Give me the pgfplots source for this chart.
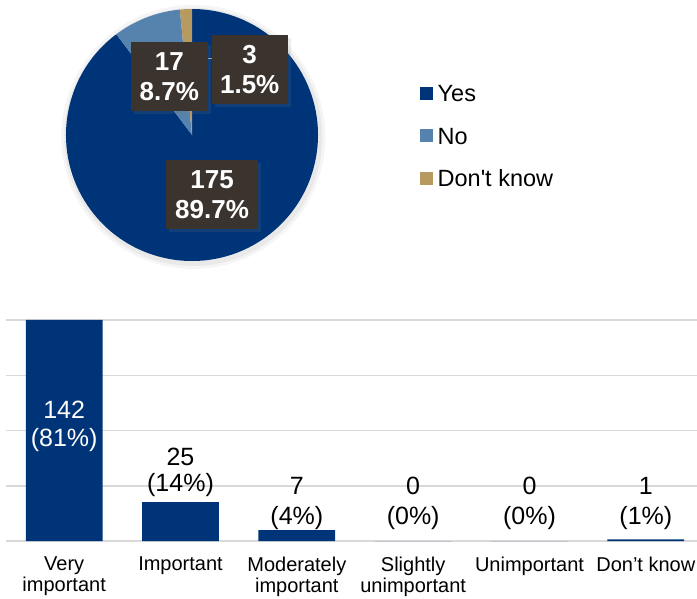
\documentclass[border=0pt]{standalone}
\usepackage{fontspec}
\setmainfont{Liberation Sans}
\newfontfamily\legfont{Liberation Sans}[Ligatures=TeXOff]
\usepackage{pgfplots}
\pgfplotsset{compat=1.18}
\usetikzlibrary{shadows}
\definecolor{cyes}{HTML}{003478}
\definecolor{cno}{HTML}{5682AE}
\definecolor{cdk}{HTML}{B69A60}
\definecolor{cbox}{HTML}{3B342E}
\definecolor{cgrid}{HTML}{D9D9D9}
\newcommand{\barf}{\fontsize{25}{29}\selectfont}
\begin{document}
\begin{tikzpicture}[x=1pt,y=1pt]
\path[use as bounding box] (0,0) rectangle (697,598);
% pie data
\def\nyes{175}\def\nno{17}\def\ndk{3}
\pgfmathsetmacro{\tot}{\nyes+\nno+\ndk}
\pgfmathsetmacro{\aA}{90+\ndk/\tot*360}
\pgfmathsetmacro{\aB}{\aA+\nno/\tot*360}
\begin{axis}[at={(192pt,463pt)}, anchor=center, scale only axis,
  width=252pt, height=252pt, xmin=-1, xmax=1, ymin=-1, ymax=1,
  hide axis, clip=false,
  legend style={at={(1.405,0.498)}, anchor=west, draw=none, fill=none,
    inner sep=0pt, font=\legfont\fontsize{23.5}{27}\selectfont, row sep=25.5pt,
    nodes={inner xsep=0pt, inner ysep=0pt, text height=17pt, text depth=0pt}},
  legend cell align=left,
  /tikz/every odd column/.append style={column sep=5pt}]
\addlegendimage{legend image code/.code={\fill[cyes] (0pt,-6pt) rectangle (12pt,6pt);}}
\addlegendentry{Yes}
\addlegendimage{legend image code/.code={\fill[cno] (0pt,-6pt) rectangle (12pt,6pt);}}
\addlegendentry{No}
\addlegendimage{legend image code/.code={\fill[cdk] (0pt,-6pt) rectangle (12pt,6pt);}}
\addlegendentry{Don't know}
\fill[black, opacity=0.04] (axis cs:0.01,-0.015) circle[radius=132pt];
\fill[black, opacity=0.05] (axis cs:0.01,-0.015) circle[radius=129pt];
\fill[cyes] (axis cs:0,0) -- ++(\aB:126pt) arc[start angle=\aB, end angle=450, radius=126pt] -- cycle;
\fill[cno] (axis cs:0,0) -- ++(\aA:126pt) arc[start angle=\aA, end angle=\aB, radius=126pt] -- cycle;
\fill[cdk] (axis cs:0,0) -- ++(90:126pt) arc[start angle=90, end angle=\aA, radius=126pt] -- cycle;
\draw[gray!70, line width=1pt] (axis cs:-0.02,0.611) -- (axis cs:0.2,0.611);
\tikzset{lbl/.style={fill=cbox, text=white, font=\bfseries\fontsize{26}{30}\selectfont,
  align=center, minimum height=69pt, inner sep=0pt,
  drop shadow={opacity=0.15, shadow xshift=3pt, shadow yshift=-3pt}}}
\node[lbl, minimum width=92pt] at (axis cs:0.159,-0.472) {175\\89.7\%};
\node[lbl, minimum width=77pt] at (axis cs:-0.180,0.464) {17\\8.7\%};
\node[lbl, minimum width=76pt] at (axis cs:0.458,0.520) {3\\1.5\%};
\end{axis}
% bar chart
\begin{axis}[at={(6pt,57pt)}, anchor=south west, scale only axis,
  width=698pt, height=221pt, xmin=-0.5, xmax=5.5, ymin=0, ymax=142,
  axis line style={draw=none}, ytick={0,35.5,71,106.5,142}, yticklabels={},
  ymajorgrids, grid style={cgrid, line width=1.5pt}, major tick length=0pt,
  xtick={0,1,2,3,4,5},
  xticklabels={{Very\\important},Important,{Moderately\\important},{Slightly\\unimportant},Unimportant,{Don’t know}},
  xticklabel style={align=center, font=\fontsize{20}{20.5}\selectfont, anchor=north, inner sep=0pt, yshift=-16pt},
  clip=false]
\addplot[ybar, bar width=0.66, fill=cyes, draw=none] coordinates {(0,142) (1,25) (2,7) (3,0) (4,0) (5,1)};
\node[white, anchor=base, font=\barf] at (axis cs:0,79) {142};
\node[white, anchor=base, font=\barf] at (axis cs:0,61) {(81\%)};
\node[anchor=base, font=\barf] at (axis cs:1,48.2) {25};
\node[anchor=base, font=\barf] at (axis cs:1,31.5) {(14\%)};
\node[anchor=base, font=\barf] at (axis cs:2,29.6) {7};
\node[anchor=base, font=\barf] at (axis cs:2,10.3) {(4\%)};
\node[anchor=base, font=\barf] at (axis cs:3,29.6) {0};
\node[anchor=base, font=\barf] at (axis cs:3,10.3) {(0\%)};
\node[anchor=base, font=\barf] at (axis cs:4,29.6) {0};
\node[anchor=base, font=\barf] at (axis cs:4,10.3) {(0\%)};
\node[anchor=base, font=\barf] at (axis cs:5,29.6) {1};
\node[anchor=base, font=\barf] at (axis cs:5,10.3) {(1\%)};
\end{axis}
\end{tikzpicture}
\end{document}
